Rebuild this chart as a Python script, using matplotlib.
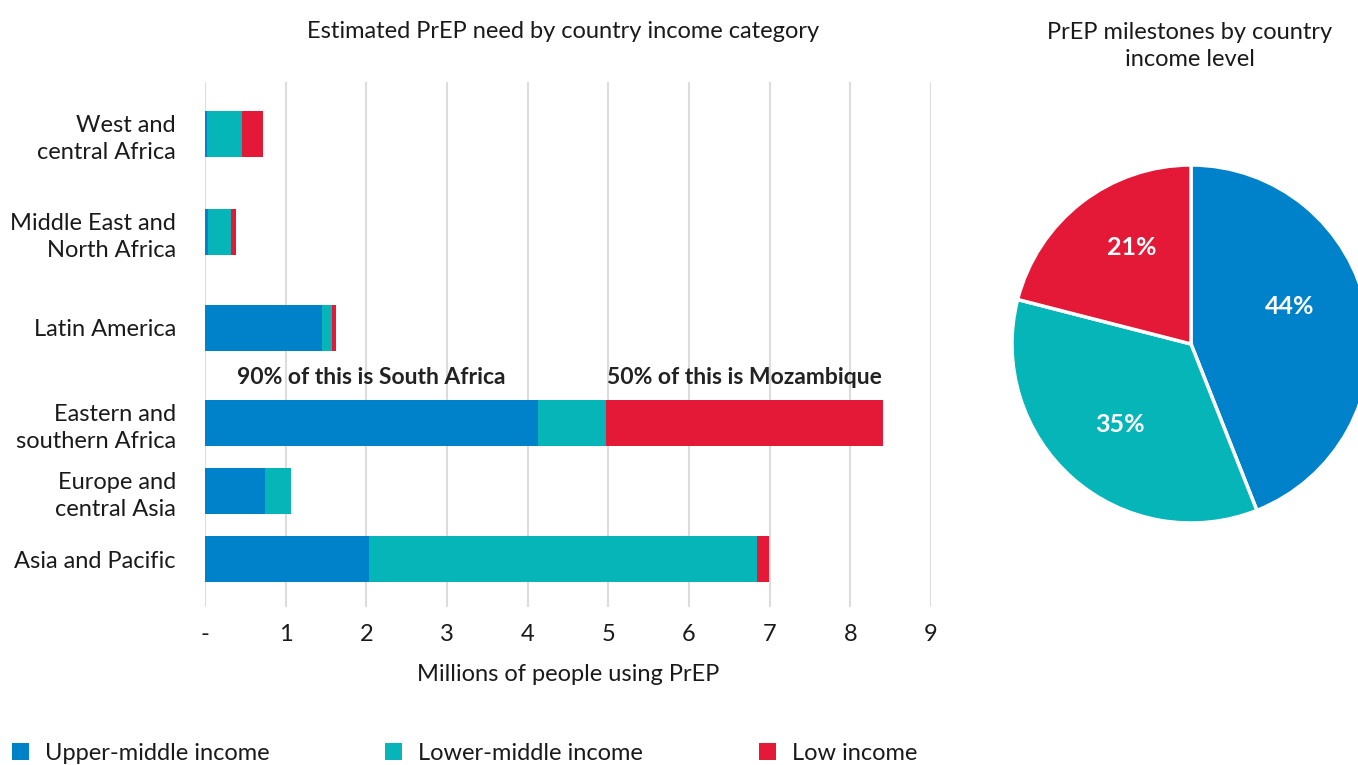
import matplotlib
matplotlib.use("Agg")
import matplotlib.pyplot as plt
import numpy as np

plt.rcParams['font.family'] = ['Lato', 'DejaVu Sans']

regions = ["West and\ncentral Africa", "Middle East and\nNorth Africa", "Latin America",
           "Eastern and\nsouthern Africa", "Europe and\ncentral Asia", "Asia and Pacific"]
upper_middle = [0.02, 0.04, 1.45, 4.13, 0.74, 2.03]
lower_middle = [0.44, 0.28, 0.12, 0.84, 0.33, 4.81]
low_income = [0.26, 0.06, 0.05, 3.43, 0.00, 0.15]
series_names = ["Upper-middle income", "Lower-middle income", "Low income"]
x_ticks = [0, 1, 2, 3, 4, 5, 6, 7, 8, 9]
x_ticklabels = ["-", "1", "2", "3", "4", "5", "6", "7", "8", "9"]
pie_labels = ["Upper-middle income", "Lower-middle income", "Low income"]
pie_shares = [44, 35, 21]
note_sa = "90% of this is South Africa"
note_mz = "50% of this is Mozambique"

BLUE = "#0082CA"
TEAL = "#05B5B8"
RED = "#E31937"
TXT = "#1a1a1a"
colors = [BLUE, TEAL, RED]
FS = 17

W, H = 1358, 765
fig = plt.figure(figsize=(W / 100, H / 100), dpi=100)


def px_axes(x0, y0, x1, y1):
    return fig.add_axes([x0 / W, 1 - y1 / H, (x1 - x0) / W, (y1 - y0) / H])


# layout: row centres in pixel units (rows are unevenly spaced in the original)
row_y = [134, 232, 328, 423, 491, 559]
bar_h = 46

ax = px_axes(205, 82, 931, 607)
ax.set_xlim(0, 9)
ax.set_ylim(607, 82)

left = np.zeros(len(regions))
bars = []
for vals, c, name in zip([upper_middle, lower_middle, low_income], colors, series_names):
    b = ax.barh(row_y, vals, left=left, height=bar_h, color=c, label=name, zorder=3)
    bars.append(b)
    left = left + np.array(vals)

ax.set_xticks(x_ticks)
ax.set_xticklabels(x_ticklabels)
ax.set_yticks(row_y)
ax.set_yticklabels(regions, linespacing=1.35)
ax.tick_params(axis="y", length=0, pad=21, labelsize=FS, labelcolor=TXT)
ax.tick_params(axis="x", length=0, pad=12, labelsize=FS, labelcolor=TXT)
ax.grid(axis="x", color="#dcdcdc", linewidth=1.5, zorder=0)
for s in ax.spines.values():
    s.set_visible(False)
ax.set_xlabel("Millions of people using PrEP", fontsize=FS, color=TXT, labelpad=14)

esa = 3
ax.text(upper_middle[esa] / 2, 378, note_sa, ha="center", va="center",
        fontsize=16.5, fontweight="bold", color="#222222")
ax.text(upper_middle[esa] + lower_middle[esa] + low_income[esa] / 2, 378, note_mz,
        ha="center", va="center", fontsize=16.5, fontweight="bold", color="#222222")

fig.text(563 / W, 1 - 32 / H, "Estimated PrEP need by country income category",
         ha="center", va="center", fontsize=FS, color=TXT)

# pie
pax = px_axes(1012, 165, 1370, 523)
wedges, _, autotexts = pax.pie(pie_shares, colors=colors, startangle=90, counterclock=False,
                               autopct=lambda p: f"{p:.0f}%", pctdistance=0.6,
                               wedgeprops=dict(edgecolor="white", linewidth=2.5))
for t in autotexts:
    t.set_color("white")
    t.set_fontsize(18)
    t.set_fontweight("bold")
autotexts[0].set_position((0.55, 0.21))
autotexts[2].set_position((-0.33, 0.54))
pax.set_xlim(-1, 1)
pax.set_ylim(-1, 1)
pax.set_aspect("equal")

fig.text(1190 / W, 1 - 46 / H, "PrEP milestones by country\nincome level",
         ha="center", va="center", fontsize=FS, color=TXT, linespacing=1.4)

fig.legend(handles=bars, labels=series_names, loc="center left",
           bbox_to_anchor=(12 / W, 1 - 753 / H), ncol=3, frameon=False,
           fontsize=FS, handlelength=0.72, handleheight=0.72, handletextpad=0.68,
           columnspacing=4.9, borderpad=0, borderaxespad=0, labelcolor=TXT)

fig.savefig("out.png", dpi=100)
